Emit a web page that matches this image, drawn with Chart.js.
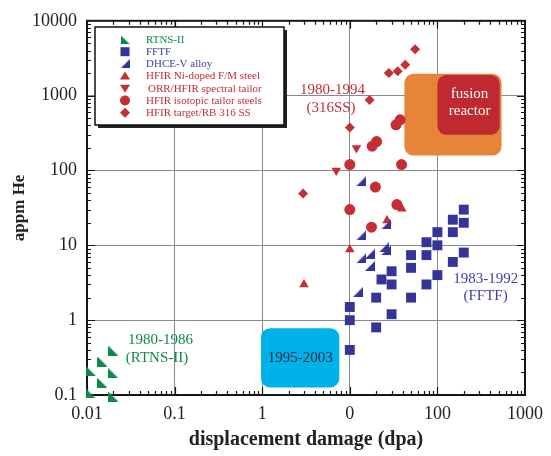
<!DOCTYPE html>
<html>
<head>
<script src="https://cdn.jsdelivr.net/npm/chart.js"></script>
<style>body{margin:0;background:#fff}</style>
</head>
<body>
<canvas id="heChart" width="551" height="456"></canvas>
<script>
// values: x = displacement damage (dpa), y = appm He
const rtnsX = [0.011, 0.011, 0.015, 0.015, 0.02, 0.02, 0.02];
const rtnsY = [0.21, 0.105, 0.28, 0.145, 0.39, 0.195, 0.095];

const fftfX = [200, 150, 200, 100, 150, 75, 100, 200, 50, 75, 150, 50, 30, 100, 23, 30, 75, 20, 50, 10, 30, 10, 20, 10];
const fftfY = [30, 22, 20, 15, 15, 11, 10, 8, 7.4, 7.4, 6, 5, 4.5, 4, 3.5, 3, 3, 2, 2, 1.5, 1.2, 1, 0.8, 0.4];

const dhceX = [13.5, 13.5, 26, 24.5, 26, 13.5, 17, 17, 12.5];
const dhceY = [72, 13.6, 19, 9.4, 8.6, 6.7, 7.7, 5.3, 2.4];

const niDopedX = [10, 3, 26.6, 39.3];
const niDopedY = [8.8, 3, 21.5, 30.7];

const orrX = [7, 11.9];
const orrY = [100, 200];

const isoX = [10, 39, 19.6, 10, 34.5, 17.7, 18, 20.2, 33.7, 37.6];
const isoY = [120, 120, 60, 30, 35, 17.5, 211, 243, 408, 475];

const targetX = [55.6, 42.9, 35.2, 27.9, 16.8, 10, 2.93];
const targetY = [4170, 2590, 2115, 2010, 875, 376, 49.3];

const seriesNames = ['RTNS-II', 'FFTF', 'DHCE-V alloy', 'HFIR Ni-doped F/M steel',
  'ORR/HFIR spectral tailor', 'HFIR isotopic tailor steels', 'HFIR target/RB 316 SS'];

const xTickValues = [0.01, 0.1, 1, 10, 100, 1000];
const xTickLabels = ['0.01', '0.1', '1', '0', '100', '1000'];
const yTickValues = [0.1, 1, 10, 100, 1000, 10000];
const yTickLabels = ['0.1', '1', '10', '100', '1000', '10000'];

const GREEN = '#0b8a48', BLUE = '#34349a', RED = '#c62d35';
const SERIF = "'Liberation Serif', 'DejaVu Serif', serif";

// shaded regions, in data units
const regions = [
  {x: [42, 540], y: [158, 1960], color: '#e8843a', r: 9},
  {x: [100, 514], y: [300, 1890], color: '#c0292f', r: 9},
  {x: [0.97, 7.6], y: [0.126, 0.78], color: '#00b2ea', r: 9}
];
const notes = [
  {text: 'fusion', x: 233, y: 1035, color: '#fff'},
  {text: 'reactor', x: 233, y: 622, color: '#fff'},
  {text: '1995-2003', x: 2.72, y: 0.314, color: '#1d2a3a'},
  {text: '1980-1994', x: 6.35, y: 1183, color: RED},
  {text: '(316SS)', x: 6.1, y: 689, color: RED},
  {text: '1983-1992', x: 357, y: 3.55, color: '#4040a6'},
  {text: '(FFTF)', x: 355, y: 2.13, color: '#4040a6'},
  {text: '1980-1986', x: 0.069, y: 0.537, color: GREEN},
  {text: '(RTNS-II)', x: 0.063, y: 0.316, color: GREEN}
];

function rightTri(color, corner, size) {
  const c = document.createElement('canvas');
  c.width = size; c.height = size;
  const g = c.getContext('2d');
  g.fillStyle = color;
  g.beginPath();
  if (corner === 'bl') { g.moveTo(0, 0); g.lineTo(0, size); g.lineTo(size, size); }
  else { g.moveTo(size, 0); g.lineTo(size, size); g.lineTo(0, size); }
  g.closePath();
  g.fill();
  return c;
}

const toPts = (xs, ys) => xs.map((v, i) => ({x: v, y: ys[i]}));

const datasets = [
  {data: toPts(rtnsX, rtnsY), pointStyle: rightTri(GREEN, 'bl', 10), color: GREEN},
  {data: toPts(fftfX, fftfY), pointStyle: 'rect', pointRadius: 7, color: BLUE},
  {data: toPts(dhceX, dhceY), pointStyle: rightTri(BLUE, 'br', 10), color: BLUE},
  {data: toPts(niDopedX, niDopedY), pointStyle: 'triangle', pointRadius: 5.5, color: RED},
  {data: toPts(orrX, orrY), pointStyle: 'triangle', pointRadius: 5.5, rotation: 180, color: RED},
  {data: toPts(isoX, isoY), pointStyle: 'circle', pointRadius: 5.5, color: RED},
  {data: toPts(targetX, targetY), pointStyle: 'rectRot', pointRadius: 5, color: RED}
].map((d, i) => ({
  label: seriesNames[i],
  data: d.data,
  pointStyle: d.pointStyle,
  pointRadius: d.pointRadius || 5,
  pointRotation: d.rotation || 0,
  backgroundColor: d.color,
  borderColor: d.color,
  pointBorderWidth: 0,
  showLine: false,
  clip: false
}));

function legendMarker(ctx, i, x, y) {
  const ds = datasets[i];
  ctx.fillStyle = ds.backgroundColor;
  ctx.beginPath();
  if (i === 0 || i === 2) {
    ctx.drawImage(ds.pointStyle, x - 4.5, y - 4.5, 9, 9);
    return;
  }
  if (i === 1) ctx.rect(x - 4.5, y - 4.5, 9, 9);
  else if (i === 3) { ctx.moveTo(x, y - 4.5); ctx.lineTo(x + 5, y + 3.5); ctx.lineTo(x - 5, y + 3.5); }
  else if (i === 4) { ctx.moveTo(x, y + 4.5); ctx.lineTo(x + 5, y - 3.5); ctx.lineTo(x - 5, y - 3.5); }
  else if (i === 5) ctx.arc(x, y, 5, 0, Math.PI * 2);
  else { ctx.moveTo(x, y - 5); ctx.lineTo(x + 5, y); ctx.lineTo(x, y + 5); ctx.lineTo(x - 5, y); }
  ctx.closePath();
  ctx.fill();
}

const decor = {
  id: 'decor',
  beforeDatasetsDraw(chart) {
    const {ctx, chartArea: a, scales: {x, y}} = chart;
    ctx.save();

    regions.forEach(r => {
      const x0 = x.getPixelForValue(r.x[0]), x1 = x.getPixelForValue(r.x[1]);
      const y0 = y.getPixelForValue(r.y[1]), y1 = y.getPixelForValue(r.y[0]);
      ctx.fillStyle = r.color;
      ctx.beginPath();
      ctx.roundRect(x0, y0, x1 - x0, y1 - y0, r.r);
      ctx.fill();
    });

    ctx.font = '15px ' + SERIF;
    ctx.textAlign = 'center';
    ctx.textBaseline = 'middle';
    notes.forEach(n => {
      ctx.fillStyle = n.color;
      ctx.fillText(n.text, x.getPixelForValue(n.x), y.getPixelForValue(n.y));
    });

    // frame with inward ticks
    ctx.strokeStyle = '#151515';
    ctx.lineWidth = 1.2;
    ctx.beginPath();
    for (let d = 0.01; d < 1000; d *= 10) {
      for (let m = 1; m <= 9; m++) {
        const px = Math.round(x.getPixelForValue(d * m)) + 0.5;
        const len = m === 1 ? 8 : 4;
        ctx.moveTo(px, a.bottom); ctx.lineTo(px, a.bottom - len);
        ctx.moveTo(px, a.top); ctx.lineTo(px, a.top + len);
      }
    }
    for (let d = 0.1; d < 10000; d *= 10) {
      for (let m = 1; m <= 9; m++) {
        const py = Math.round(y.getPixelForValue(d * m)) + 0.5;
        const len = m === 1 ? 8 : 4;
        ctx.moveTo(a.left, py); ctx.lineTo(a.left + len, py);
        ctx.moveTo(a.right, py); ctx.lineTo(a.right - len, py);
      }
    }
    ctx.stroke();
    ctx.lineWidth = 2;
    ctx.strokeRect(a.left, a.top, a.right - a.left, a.bottom - a.top);

    // legend box with drop shadow
    const lx = 95, ly = 27, lw = 189, lh = 98;
    ctx.fillStyle = '#222';
    ctx.fillRect(lx + 3, ly + 3, lw, lh);
    ctx.fillStyle = '#fff';
    ctx.fillRect(lx, ly, lw, lh);
    ctx.lineWidth = 1.5;
    ctx.strokeStyle = '#111';
    ctx.strokeRect(lx, ly, lw, lh);
    ctx.font = '11px ' + SERIF;
    ctx.textAlign = 'left';
    seriesNames.forEach((name, i) => {
      const ry = 39.5 + i * 12.2;
      legendMarker(ctx, i, 125, ry);
      ctx.fillStyle = i === 0 ? GREEN : (i < 3 ? '#3c3ca4' : RED);
      ctx.fillText(name, i === 4 ? 148 : 146, ry + 0.5);
    });
    ctx.restore();
  }
};

new Chart(document.getElementById('heChart'), {
  type: 'scatter',
  data: {datasets},
  options: {
    responsive: false,
    animation: false,
    layout: {padding: {left: 0, top: 18, right: 22, bottom: 0}},
    plugins: {legend: {display: false}, tooltip: {enabled: false}},
    scales: {
      x: {
        type: 'logarithmic', min: 0.01, max: 1000,
        afterBuildTicks: s => { s.ticks = xTickValues.map(v => ({value: v})); },
        afterFit: s => { s.height = 61; },
        ticks: {callback: (v, i) => xTickLabels[i], autoSkip: false, maxRotation: 0,
          font: {family: SERIF, size: 18}, color: '#222', padding: 8},
        grid: {color: '#8a8a8a', lineWidth: 1, drawTicks: false},
        border: {display: false},
        title: {display: true, text: 'displacement damage (dpa)', color: '#222',
          font: {family: SERIF, size: 20, weight: 'bold'}, padding: {top: 0, bottom: 4}}
      },
      y: {
        type: 'logarithmic', min: 0.1, max: 10000,
        afterBuildTicks: s => { s.ticks = yTickValues.map(v => ({value: v})); },
        afterFit: s => { s.width = 87; },
        ticks: {callback: (v, i) => yTickLabels[i], autoSkip: false,
          font: {family: SERIF, size: 18}, color: '#222', padding: 10},
        grid: {color: '#8a8a8a', lineWidth: 1, drawTicks: false},
        border: {display: false},
        title: {display: true, text: 'appm He', color: '#222',
          font: {family: SERIF, size: 17, weight: 'bold'}, padding: {top: 9, bottom: 0}}
      }
    }
  },
  plugins: [decor]
});
</script>
</body>
</html>
